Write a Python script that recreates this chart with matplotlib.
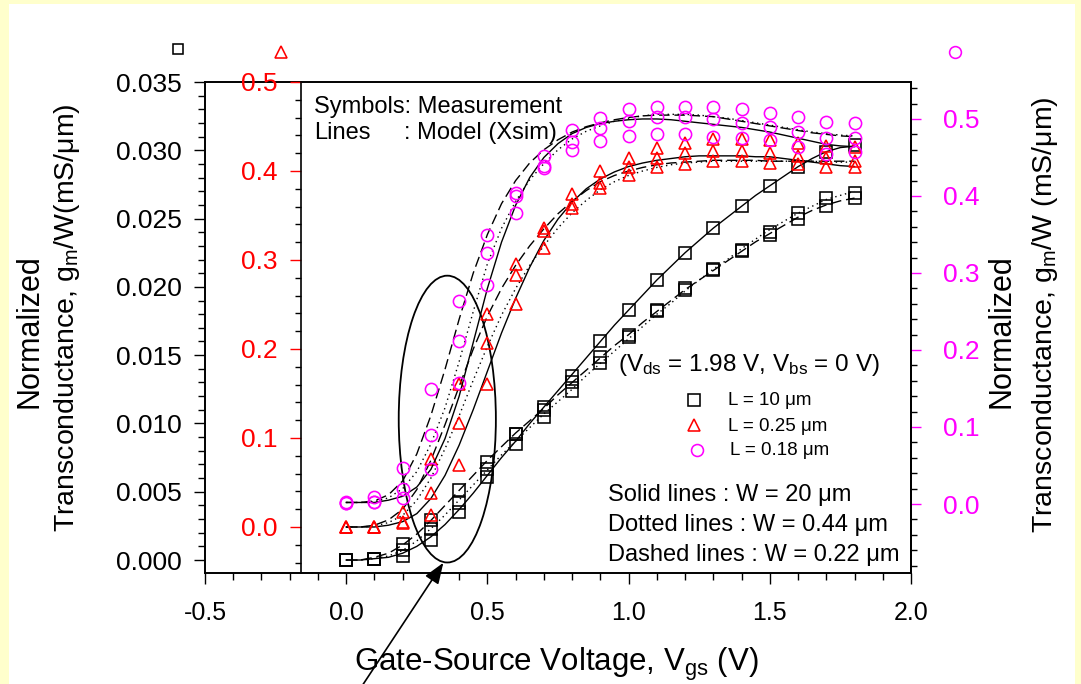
import matplotlib
matplotlib.use('Agg')
import matplotlib.pyplot as plt
from matplotlib.ticker import MultipleLocator, FormatStrFormatter
from matplotlib.patches import Ellipse, Rectangle
from matplotlib.lines import Line2D

plt.rcParams['font.family'] = ['Liberation Sans', 'DejaVu Sans']
plt.rcParams['mathtext.fontset'] = 'custom'
plt.rcParams['mathtext.rm'] = 'Liberation Sans'
plt.rcParams['mathtext.it'] = 'Liberation Sans:italic'
plt.rcParams['mathtext.bf'] = 'Liberation Sans:bold'
plt.rcParams['lines.scale_dashes'] = False

# ---------------- data ----------------
vgs_meas = [0.0, 0.1, 0.2, 0.3, 0.4, 0.5, 0.6, 0.7, 0.8, 0.9,
            1.0, 1.1, 1.2, 1.3, 1.4, 1.5, 1.6, 1.7, 1.8]
vgs_model = [0.0, 0.05, 0.1, 0.15, 0.2, 0.25, 0.3, 0.35, 0.4, 0.45,
             0.5, 0.55, 0.6, 0.65, 0.7, 0.75, 0.8, 0.85, 0.9, 0.95,
             1.0, 1.05, 1.1, 1.15, 1.2, 1.25, 1.3, 1.35, 1.4, 1.45,
             1.5, 1.55, 1.6, 1.65, 1.7, 1.75, 1.8]

# L = 10 um (left black axis)
blk_meas_w20 = [0.0000, 0.0001, 0.0003, 0.0015, 0.0035, 0.0061, 0.0085, 0.0112, 0.0135, 0.0160,
                0.0183, 0.0205, 0.0225, 0.0243, 0.0259, 0.0274, 0.0288, 0.0299, 0.0304]
blk_meas_w044 = [0.0000, 0.0001, 0.0007, 0.0023, 0.0042, 0.0067, 0.0092, 0.0105, 0.0124, 0.0144,
                 0.0163, 0.0182, 0.0198, 0.0212, 0.0226, 0.0238, 0.0250, 0.0265, 0.0269]
blk_meas_w022 = [0.0000, 0.0001, 0.0012, 0.0029, 0.0051, 0.0072, 0.0092, 0.0110, 0.0130, 0.0149,
                 0.0165, 0.0183, 0.0199, 0.0213, 0.0227, 0.0240, 0.0254, 0.0259, 0.0265]
blk_model_w20 = [0.0000, 0.0000, 0.0001, 0.0002, 0.0005, 0.0010, 0.0017, 0.0026, 0.0037, 0.0049,
                 0.0062, 0.0075, 0.0087, 0.0100, 0.0112, 0.0124, 0.0136, 0.0148, 0.0160, 0.0172,
                 0.0183, 0.0194, 0.0205, 0.0215, 0.0225, 0.0234, 0.0243, 0.0251, 0.0259, 0.0267,
                 0.0274, 0.0281, 0.0288, 0.0294, 0.0299, 0.0302, 0.0303]
blk_model_w044 = [0.0000, 0.0000, 0.0001, 0.0003, 0.0007, 0.0014, 0.0023, 0.0033, 0.0044, 0.0055,
                  0.0066, 0.0077, 0.0087, 0.0097, 0.0107, 0.0116, 0.0125, 0.0135, 0.0144, 0.0153,
                  0.0162, 0.0171, 0.0180, 0.0188, 0.0197, 0.0205, 0.0213, 0.0220, 0.0228, 0.0235,
                  0.0242, 0.0248, 0.0254, 0.0259, 0.0264, 0.0267, 0.0270]
blk_model_w022 = [0.0000, 0.0000, 0.0002, 0.0005, 0.0011, 0.0019, 0.0029, 0.0040, 0.0051, 0.0062,
                  0.0073, 0.0083, 0.0093, 0.0102, 0.0111, 0.0121, 0.0130, 0.0139, 0.0148, 0.0157,
                  0.0165, 0.0174, 0.0182, 0.0190, 0.0198, 0.0205, 0.0212, 0.0219, 0.0226, 0.0233,
                  0.0239, 0.0245, 0.0251, 0.0256, 0.0260, 0.0263, 0.0265]

# L = 0.25 um (red axis)
red_meas_w20 = [0.000, 0.000, 0.004, 0.013, 0.070, 0.161, 0.250, 0.314, 0.358, 0.381,
                0.395, 0.404, 0.408, 0.411, 0.411, 0.409, 0.408, 0.405, 0.404]
red_meas_w044 = [0.000, 0.000, 0.006, 0.038, 0.117, 0.207, 0.283, 0.333, 0.363, 0.387,
                 0.404, 0.415, 0.420, 0.423, 0.423, 0.420, 0.417, 0.415, 0.411]
red_meas_w022 = [0.000, 0.000, 0.017, 0.076, 0.161, 0.239, 0.296, 0.336, 0.374, 0.400,
                 0.415, 0.426, 0.432, 0.436, 0.436, 0.435, 0.432, 0.428, 0.427]
red_model_w20 = [0.000, 0.000, 0.000, 0.002, 0.006, 0.015, 0.032, 0.058, 0.092, 0.132,
                 0.175, 0.218, 0.257, 0.292, 0.322, 0.346, 0.365, 0.380, 0.391, 0.399,
                 0.405, 0.409, 0.412, 0.414, 0.416, 0.417, 0.417, 0.417, 0.417, 0.416,
                 0.416, 0.414, 0.412, 0.410, 0.408, 0.406, 0.405]
red_model_w044 = [0.000, 0.000, 0.001, 0.005, 0.013, 0.030, 0.055, 0.088, 0.125, 0.165,
                  0.203, 0.238, 0.268, 0.294, 0.316, 0.336, 0.353, 0.367, 0.379, 0.388,
                  0.395, 0.400, 0.404, 0.407, 0.409, 0.410, 0.411, 0.411, 0.411, 0.411,
                  0.411, 0.411, 0.411, 0.411, 0.410, 0.410, 0.410]
red_model_w022 = [0.000, 0.000, 0.002, 0.008, 0.020, 0.042, 0.075, 0.115, 0.158, 0.200,
                  0.237, 0.268, 0.294, 0.316, 0.335, 0.352, 0.366, 0.378, 0.388, 0.395,
                  0.400, 0.404, 0.407, 0.409, 0.410, 0.411, 0.412, 0.412, 0.412, 0.412,
                  0.411, 0.411, 0.411, 0.411, 0.411, 0.411, 0.411]

# L = 0.18 um (magenta axis)
mag_meas_w20 = [0.001, 0.002, 0.008, 0.045, 0.157, 0.284, 0.378, 0.436, 0.460, 0.471,
                0.478, 0.481, 0.481, 0.477, 0.475, 0.473, 0.464, 0.455, 0.457]
mag_meas_w044 = [0.001, 0.003, 0.019, 0.090, 0.212, 0.326, 0.400, 0.439, 0.470, 0.488,
                 0.497, 0.503, 0.503, 0.500, 0.495, 0.490, 0.483, 0.475, 0.475]
mag_meas_w022 = [0.002, 0.009, 0.047, 0.149, 0.264, 0.349, 0.404, 0.452, 0.486, 0.501,
                 0.513, 0.516, 0.516, 0.516, 0.513, 0.508, 0.503, 0.496, 0.495]
mag_model_w20 = [0.002, 0.002, 0.002, 0.005, 0.010, 0.022, 0.045, 0.085, 0.140, 0.210,
                 0.280, 0.340, 0.388, 0.424, 0.450, 0.468, 0.481, 0.489, 0.494, 0.497,
                 0.499, 0.500, 0.500, 0.499, 0.497, 0.495, 0.493, 0.491, 0.489, 0.486,
                 0.483, 0.479, 0.475, 0.471, 0.467, 0.465, 0.464]
mag_model_w044 = [0.002, 0.002, 0.003, 0.008, 0.020, 0.042, 0.078, 0.125, 0.185, 0.250,
                  0.312, 0.358, 0.393, 0.421, 0.442, 0.460, 0.474, 0.484, 0.491, 0.497,
                  0.501, 0.504, 0.506, 0.506, 0.506, 0.505, 0.503, 0.501, 0.498, 0.495,
                  0.492, 0.489, 0.486, 0.483, 0.481, 0.479, 0.478]
mag_model_w022 = [0.002, 0.002, 0.004, 0.012, 0.030, 0.065, 0.115, 0.175, 0.240, 0.300,
                  0.350, 0.390, 0.420, 0.443, 0.460, 0.473, 0.483, 0.490, 0.495, 0.499,
                  0.502, 0.504, 0.505, 0.505, 0.505, 0.504, 0.503, 0.500, 0.497, 0.494,
                  0.491, 0.488, 0.485, 0.482, 0.480, 0.478, 0.477]

x_ticks_label_fmt = '%.1f'
legend_labels = ['L = 10 μm', 'L = 0.25 μm', 'L = 0.18 μm']
width_labels = ['Solid lines : W = 20 μm', 'Dotted lines : W = 0.44 μm',
                'Dashed lines : W = 0.22 μm']

# ---------------- figure ----------------
W, H = 1081, 684
def fx(px):
    return px / W
def fy(py):
    return 1 - py / H

RED = '#FF0000'
MAG = '#FF00FF'
MS_SQ, MS_TRI, MS_CIR = 8.3, 9.3, 8.8
MEW = 1.15

fig = plt.figure(figsize=(W / 100, H / 100), dpi=100, facecolor='#FFFFCC')
fig.add_artist(Rectangle((fx(9), 0), (1075 - 9) / W, (H - 4) / H,
                         transform=fig.transFigure, facecolor='white',
                         edgecolor='none', zorder=-10))

L, R, T, B = 205, 911, 82, 573
ax = fig.add_axes([fx(L), fy(B), (R - L) / W, (B - T) / H])
ax.set_facecolor('white')
ax_r = ax.twinx()
ax_m = ax.twinx()

ax.set_xlim(-0.5, 2.0)
ax.set_ylim(-0.00095, 0.035)
ax_r.set_ylim(-0.0517, 0.5)
ax_m.set_ylim(-0.0896, 0.548)

# spines
for s in ax.spines.values():
    s.set_linewidth(1.4)
    s.set_color('black')
for name, s in ax_r.spines.items():
    s.set_visible(name == 'left')
ax_r.spines['left'].set_position(('axes', (301 - L) / (R - L)))
ax_r.spines['left'].set_linewidth(1.2)
for name, s in ax_m.spines.items():
    s.set_visible(name == 'right')
ax_m.spines['right'].set_linewidth(1.4)

# ticks
ax.xaxis.set_major_locator(MultipleLocator(0.5))
ax.xaxis.set_minor_locator(MultipleLocator(0.1))
ax.xaxis.set_major_formatter(FormatStrFormatter(x_ticks_label_fmt))
ax.yaxis.set_major_locator(MultipleLocator(0.005))
ax.yaxis.set_minor_locator(MultipleLocator(0.001))
ax.yaxis.set_major_formatter(FormatStrFormatter('%.3f'))
ax.tick_params(axis='x', which='major', direction='out', length=8, width=1.0,
               labelsize=18, pad=12)
ax.tick_params(axis='x', which='minor', direction='out', length=5, width=1.0)
ax.tick_params(axis='y', which='major', direction='out', length=8, width=1.0,
               labelsize=19, pad=9, left=True, right=False)
ax.tick_params(axis='y', which='minor', direction='out', length=5, width=1.0,
               left=True, right=False)

ax_r.yaxis.tick_left()
ax_r.yaxis.set_major_locator(MultipleLocator(0.1))
ax_r.yaxis.set_minor_locator(MultipleLocator(0.02))
ax_r.yaxis.set_major_formatter(FormatStrFormatter('%.1f'))
ax_r.tick_params(axis='y', which='major', direction='out', length=8, width=1.0,
                 colors=RED, labelsize=19, pad=9)
ax_r.tick_params(axis='y', which='minor', direction='out', length=4, width=1.0,
                 color='black')

ax_m.yaxis.tick_right()
ax_m.yaxis.set_major_locator(MultipleLocator(0.1))
ax_m.yaxis.set_minor_locator(MultipleLocator(0.02))
ax_m.yaxis.set_major_formatter(FormatStrFormatter('%.1f'))
ax_m.tick_params(axis='y', which='major', direction='out', length=7, width=1.0,
                 colors=MAG, labelsize=19, pad=16)
ax_m.tick_params(axis='y', which='minor', direction='out', length=4, width=1.0,
                 color='black')

# line styles
DOT = (0, (1.0, 2.6))
DASH = (0, (7.5, 3.5))
LW = 1.0

def draw(axis, model_sets, meas_sets, marker, color, ms):
    for y, ls in zip(model_sets, ['-', DOT, DASH]):
        axis.plot(vgs_model, y, color='black', lw=LW, ls=ls)
    for y in meas_sets:
        axis.plot(vgs_meas, y, ls='none', marker=marker, ms=ms, mfc='none',
                  mec=color, mew=MEW, clip_on=False)

draw(ax, [blk_model_w20, blk_model_w044, blk_model_w022],
     [blk_meas_w20, blk_meas_w044, blk_meas_w022], 's', 'black', MS_SQ)
draw(ax_r, [red_model_w20, red_model_w044, red_model_w022],
     [red_meas_w20, red_meas_w044, red_meas_w022], '^', RED, MS_TRI)
draw(ax_m, [mag_model_w20, mag_model_w044, mag_model_w022],
     [mag_meas_w20, mag_meas_w044, mag_meas_w022], 'o', MAG, MS_CIR)

# ellipse + arrow
ax.add_patch(Ellipse((0.358, 0.01032), width=0.344, height=0.0210,
                     fill=False, lw=1.3, color='black'))
ax.annotate('', xy=(0.344, -0.0002), xycoords='data',
            xytext=(362, -2), textcoords='figure pixels',
            arrowprops=dict(arrowstyle='-|>,head_length=0.4,head_width=0.15',
                            mutation_scale=32, color='black', lw=1.2,
                            shrinkA=0, shrinkB=0),
            annotation_clip=False)

# axis-identifier markers above axes
fig.add_artist(Line2D([fx(178)], [fy(49)], marker='s', ms=7.5, mfc='none',
                      mec='black', mew=MEW, transform=fig.transFigure))
fig.add_artist(Line2D([fx(281)], [fy(52)], marker='^', ms=8.5, mfc='none',
                      mec=RED, mew=MEW, transform=fig.transFigure))
fig.add_artist(Line2D([fx(955)], [fy(52)], marker='o', ms=8.5, mfc='none',
                      mec=MAG, mew=MEW, transform=fig.transFigure))

# texts inside
fig.text(fx(314), fy(113), 'Symbols: Measurement', fontsize=17, va='baseline')
fig.text(fx(314), fy(139), 'Lines', fontsize=17, va='baseline')
fig.text(fx(404), fy(139), ': Model (Xsim)', fontsize=17, va='baseline')
fig.text(fx(618), fy(371), r'($\mathregular{V_{ds}}$ = 1.98 V, $\mathregular{V_{bs}}$ = 0 V)',
         fontsize=17.5, va='baseline')

leg_marks = [('s', 'black', 694, 400, 8.3, 728, 405),
             ('^', RED, 694, 425, 9.0, 728, 431),
             ('o', MAG, 697, 450, 8.6, 730, 455)]
for (mk, col, mx, my, ms, tx, ty), lab in zip(leg_marks, legend_labels):
    fig.add_artist(Line2D([fx(mx)], [fy(my)], marker=mk, ms=ms, mfc='none',
                          mec=col, mew=MEW, transform=fig.transFigure))
    fig.text(fx(tx), fy(ty), lab, fontsize=13.5, va='baseline')

for lab, by in zip(width_labels, [501, 531, 561]):
    fig.text(fx(608), fy(by), lab, fontsize=17, va='baseline')

# axis labels
fig.text(fx(30), fy(331), 'Normalized', fontsize=22, rotation=90,
         ha='center', va='center')
fig.text(fx(67), fy(318), r'Transconductance, $\mathregular{g_m}$/W(mS/μm)',
         fontsize=20.5, rotation=90, ha='center', va='center')
fig.text(fx(1002), fy(331), 'Normalized', fontsize=22, rotation=90,
         ha='center', va='center')
fig.text(fx(1045), fy(315), r'Transconductance, $\mathregular{g_m}$/W (mS/μm)',
         fontsize=20.5, rotation=90, ha='center', va='center')
fig.text(fx(556), fy(664), r'Gate-Source Voltage, $\mathregular{V_{gs}}$ (V)',
         fontsize=22.5, ha='center', va='center')

fig.savefig('out.png', dpi=100, facecolor=fig.get_facecolor())
